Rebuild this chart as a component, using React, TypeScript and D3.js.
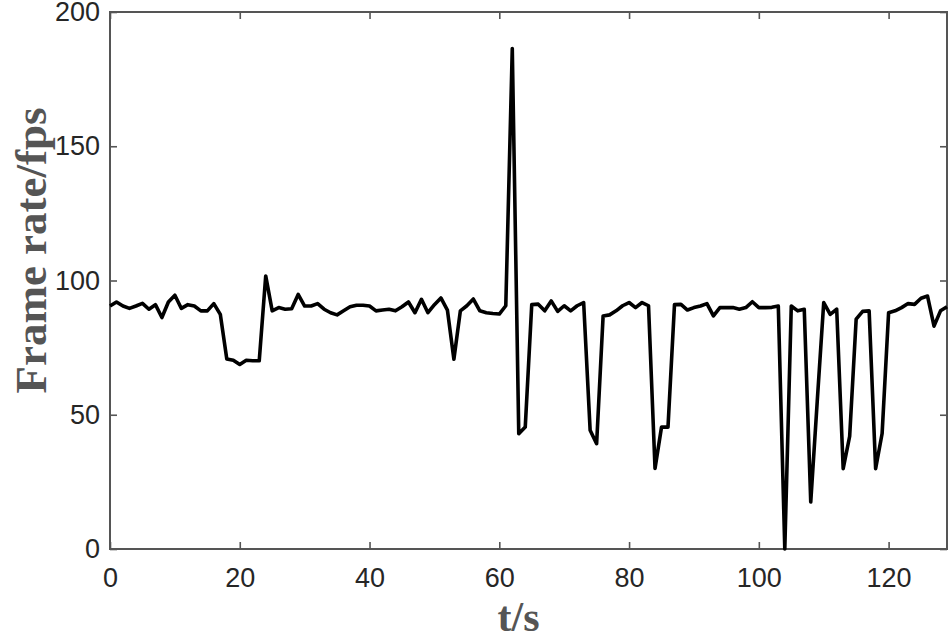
import React, { useEffect, useRef } from "react";
import * as d3 from "d3";

// frame rate sampled once per second, t = 0..129
const seconds: number[] = d3.range(0, 130);
const frameRate: number[] = [
  90.5, 92, 90.5, 89.6, 90.5, 91.5, 89.3, 91, 86.2, 92,
  94.5, 89.6, 91, 90.5, 88.7, 88.7, 91.4, 87.4, 70.8, 70.3,
  68.7, 70.3, 70.1, 70.1, 101.7, 88.7, 89.9, 89.3, 89.5, 94.8,
  90.5, 90.5, 91.4, 89.3, 88, 87.2, 88.7, 90.2, 90.8, 90.8,
  90.5, 88.7, 89, 89.3, 88.7, 90.2, 92, 88, 93, 88,
  91, 93.5, 89, 70.7, 88.7, 90.6, 93.1, 88.7, 88, 87.7,
  87.5, 90.6, 186.4, 42.9, 45.4, 91, 91.2, 88.7, 92.4, 88.5,
  90.6, 88.7, 90.6, 91.8, 44.2, 39.2, 86.8, 87.2, 88.7, 90.6,
  91.8, 89.9, 91.8, 90.6, 30, 45.4, 45.4, 91, 91.1, 89,
  89.9, 90.5, 91.4, 86.8, 89.9, 89.9, 89.9, 89.3, 89.9, 92.1,
  89.9, 89.9, 90, 90.5, 0, 90.5, 88.7, 89.3, 17.5, 55,
  91.8, 87.4, 89.3, 29.9, 42, 85.6, 88.5, 88.7, 29.9, 43,
  88, 88.7, 89.9, 91.4, 91.1, 93.4, 94.2, 83, 88.7, 90.2,
];
const xTicks: number[] = [0, 20, 40, 60, 80, 100, 120];
const yTicks: number[] = [0, 50, 100, 150, 200];

const W = 951;
const H = 640;

export default function App() {
  const svgRef = useRef<SVGSVGElement>(null);

  useEffect(() => {
    const margin = { top: 12, right: 4, bottom: 91, left: 110 };
    const innerW = W - margin.left - margin.right;
    const innerH = H - margin.top - margin.bottom;

    const svg = d3.select(svgRef.current);
    svg.selectAll("*").remove();

    const g = svg.append("g").attr("transform", `translate(${margin.left},${margin.top})`);

    const x = d3.scaleLinear().domain([0, 129]).range([0, innerW]);
    const y = d3.scaleLinear().domain([0, 200]).range([innerH, 0]);

    const axisColor = "#555";
    const labelColor = "#262626";

    // inward ticks on all four sides, MATLAB style
    const styleAxis = (sel: d3.Selection<SVGGElement, unknown, null, undefined>) => {
      sel.select(".domain").remove();
      sel.selectAll(".tick line").attr("stroke", axisColor).attr("stroke-width", 1.6);
      sel.selectAll(".tick text")
        .attr("fill", labelColor)
        .attr("font-family", "Liberation Sans, Arial, sans-serif")
        .attr("font-size", "27px");
    };

    g.append("g")
      .attr("transform", `translate(0,${innerH})`)
      .call(d3.axisBottom(x).tickValues(xTicks).tickSize(-7).tickPadding(19))
      .call(styleAxis);

    g.append("g")
      .call(d3.axisTop(x).tickValues(xTicks).tickSize(-7).tickFormat(() => ""))
      .call(styleAxis);

    g.append("g")
      .call(d3.axisLeft(y).tickValues(yTicks).tickSize(-7).tickPadding(10))
      .call(styleAxis);

    g.append("g")
      .attr("transform", `translate(${innerW},0)`)
      .call(d3.axisRight(y).tickValues(yTicks).tickSize(-7).tickFormat(() => ""))
      .call(styleAxis);

    g.append("rect")
      .attr("width", innerW)
      .attr("height", innerH)
      .attr("fill", "none")
      .attr("stroke", axisColor)
      .attr("stroke-width", 2);

    const line = d3.line<number>()
      .x((_, i) => x(seconds[i]))
      .y(d => y(d));

    g.append("path")
      .datum(frameRate)
      .attr("d", line)
      .attr("fill", "none")
      .attr("stroke", "#000")
      .attr("stroke-width", 3.6)
      .attr("stroke-linejoin", "round");

    svg.append("text")
      .attr("x", margin.left + innerW / 2 - 10)
      .attr("y", 631)
      .attr("text-anchor", "middle")
      .attr("fill", "#555")
      .attr("font-family", "Liberation Serif, Times New Roman, serif")
      .attr("font-weight", "bold")
      .attr("font-size", "42px")
      .text("t/s");

    svg.append("text")
      .attr("transform", `translate(46,${margin.top + innerH / 2 - 30}) rotate(-90)`)
      .attr("text-anchor", "middle")
      .attr("fill", "#555")
      .attr("font-family", "Liberation Serif, Times New Roman, serif")
      .attr("font-weight", "bold")
      .attr("font-size", "45px")
      .text("Frame rate/fps");
  }, []);

  return (
    <div style={{ position: "absolute", left: 0, top: 0 }}>
      <svg ref={svgRef} width={W} height={H} style={{ display: "block", background: "#fff" }} />
    </div>
  );
}
